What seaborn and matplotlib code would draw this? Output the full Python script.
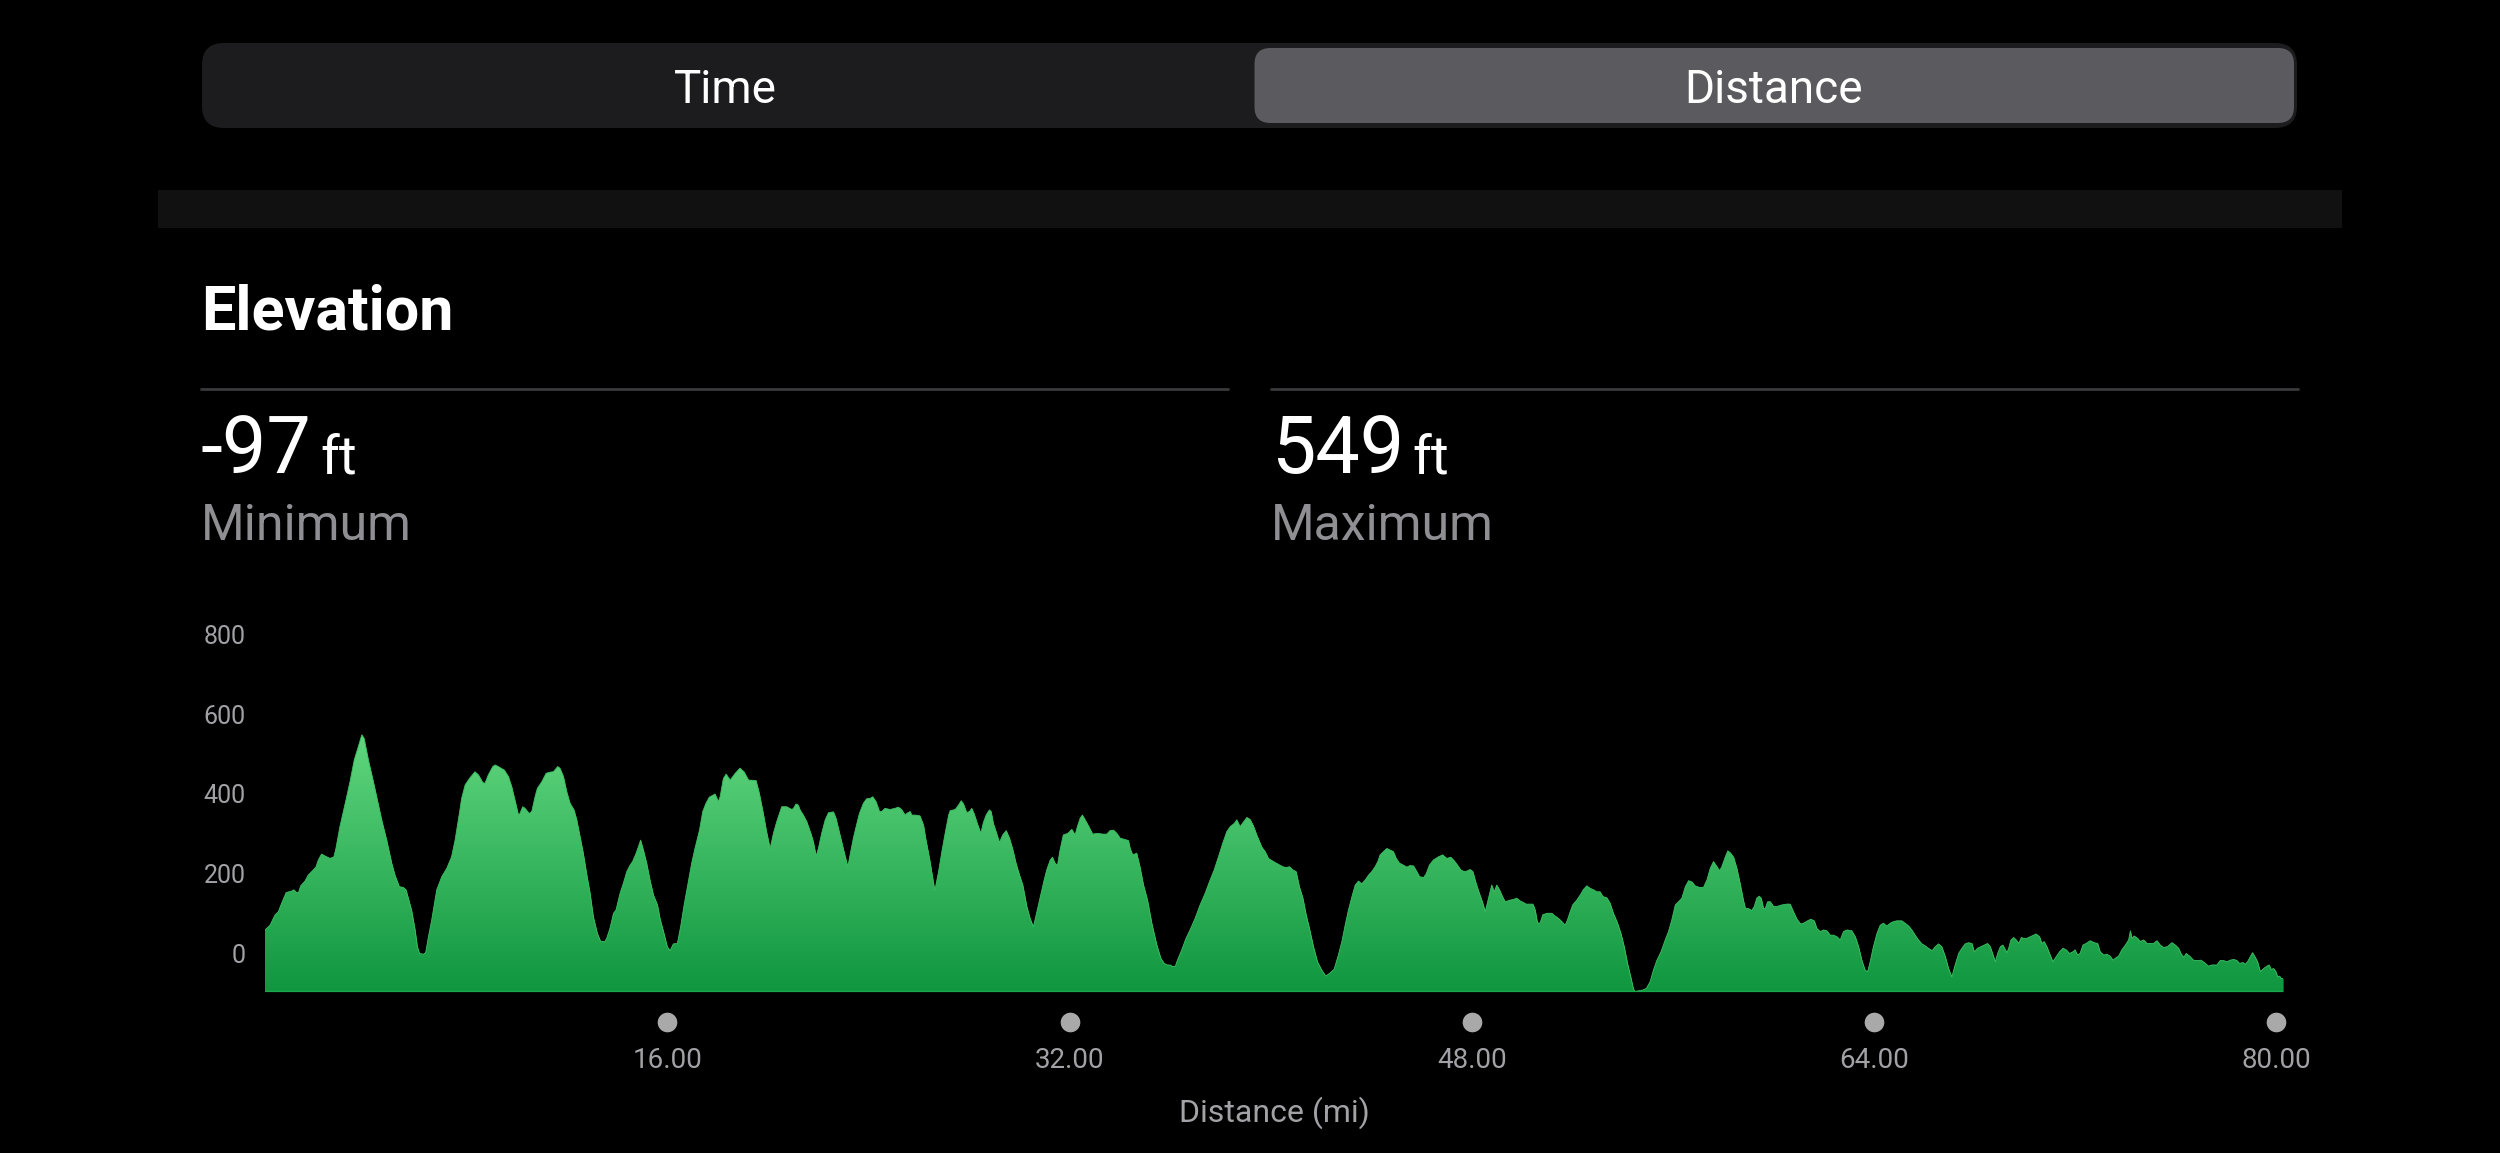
import matplotlib
matplotlib.use("Agg")
import matplotlib.pyplot as plt
from matplotlib.patches import FancyBboxPatch, Rectangle
from matplotlib.colors import LinearSegmentedColormap
import numpy as np
import seaborn as sns

# header texts
segments = ["Time", "Distance"]
selected = "Distance"
title = "Elevation"
min_label = "Minimum"
max_label = "Maximum"
unit = "ft"
x_label = "Distance (mi)"

# elevation profile, in four stretches (miles, feet)
dist_a = [0.00, 0.20, 0.40, 0.53, 0.66, 0.84, 1.06, 1.15, 1.26, 1.33,
          1.42, 1.59, 1.72, 1.92, 2.03, 2.12, 2.25, 2.39, 2.59, 2.74,
          2.82, 2.98, 3.22, 3.38, 3.55, 3.71, 3.85, 3.94, 4.11, 4.31,
          4.47, 4.64, 4.84, 5.04, 5.17, 5.34, 5.50, 5.61, 5.70, 5.83,
          5.97, 6.06, 6.14, 6.30, 6.39, 6.50, 6.63, 6.83, 7.03, 7.23,
          7.42, 7.56, 7.73, 7.82, 7.96, 8.13, 8.35, 8.49, 8.66, 8.75,
          8.88, 9.06, 9.15, 9.28, 9.52, 9.68, 9.81, 9.94, 10.08, 10.14,
          10.25, 10.34, 10.51, 10.61, 10.74, 10.83, 11.01, 11.18, 11.34, 11.47,
          11.64, 11.73, 11.87, 12.00, 12.13, 12.29, 12.40, 12.53, 12.66, 12.79,
          12.93, 13.06, 13.22, 13.35, 13.52, 13.59, 13.72, 13.86, 13.96, 14.12,
          14.25, 14.39, 14.52, 14.62, 14.76, 14.94, 15.05, 15.18, 15.31, 15.45,
          15.61, 15.71, 15.87, 16.00, 16.11, 16.24, 16.40, 16.53, 16.67, 16.80,
          16.97, 17.10, 17.28, 17.41, 17.54, 17.67, 17.90, 18.03, 18.10, 18.23,
          18.34, 18.50, 18.70, 18.89, 19.05, 19.23, 19.53, 19.66, 19.82, 19.95]
elev_a = [58, 70, 96, 104, 125, 152, 156, 159, 152, 152,
          169, 181, 196, 209, 217, 234, 249, 244, 238, 242,
          263, 318, 385, 431, 486, 519, 549, 540, 486, 431,
          385, 335, 284, 226, 196, 167, 165, 159, 138, 108,
          58, 16, -1, -3, 1, 41, 83, 159, 192, 213,
          242, 284, 351, 389, 423, 439, 456, 448, 429, 427,
          448, 469, 473, 469, 460, 444, 419, 385, 347, 351,
          368, 364, 351, 356, 393, 414, 431, 452, 455, 456,
          469, 465, 444, 406, 377, 360, 335, 293, 251, 200,
          150, 91, 49, 29, 29, 37, 62, 100, 108, 150,
          175, 205, 221, 230, 251, 284, 259, 226, 184, 146,
          121, 87, 49, 16, 6, 23, 24, 66, 121, 167,
          226, 263, 309, 356, 377, 392, 400, 381, 393, 439,
          450, 435, 452, 465, 456, 435, 434, 402, 351, 305]

dist_b = [20.09, 20.22, 20.35, 20.55, 20.75, 20.95, 21.02, 21.12, 21.21, 21.28,
          21.41, 21.55, 21.71, 21.81, 21.92, 22.01, 22.14, 22.28, 22.41, 22.61,
          22.71, 22.87, 23.03, 23.18, 23.27, 23.40, 23.51, 23.64, 23.80, 23.93,
          24.07, 24.17, 24.30, 24.44, 24.53, 24.66, 24.86, 25.06, 25.19, 25.32,
          25.46, 25.52, 25.66, 25.72, 25.85, 26.05, 26.19, 26.29, 26.43, 26.56,
          26.64, 26.79, 26.92, 27.05, 27.19, 27.25, 27.45, 27.58, 27.69, 27.78,
          27.91, 28.02, 28.11, 28.20, 28.33, 28.47, 28.57, 28.68, 28.81, 28.88,
          28.97, 29.10, 29.21, 29.34, 29.48, 29.61, 29.74, 29.87, 30.01, 30.14,
          30.30, 30.43, 30.56, 30.70, 30.85, 30.99, 31.09, 31.23, 31.32, 31.42,
          31.52, 31.62, 31.75, 31.93, 32.09, 32.22, 32.31, 32.42, 32.51, 32.62,
          32.75, 32.92, 33.09, 33.35, 33.48, 33.61, 33.75, 33.88, 34.01, 34.17,
          34.34, 34.41, 34.51, 34.67, 34.80, 34.94, 35.10, 35.27, 35.47, 35.63,
          35.76, 35.89, 36.00, 36.10, 36.20, 36.29, 36.46, 36.63, 36.79, 36.99,
          37.19, 37.39, 37.56, 37.75, 37.92, 38.09, 38.25, 38.39, 38.55, 38.65,
          38.78, 38.92, 39.05, 39.18, 39.31, 39.47, 39.65, 39.78, 39.91, 40.11]
elev_b = [263, 301, 330, 368, 368, 361, 364, 375, 372, 360,
          347, 330, 301, 280, 244, 263, 301, 335, 353, 355,
          339, 297, 255, 217, 247, 289, 318, 351, 377, 388,
          389, 393, 381, 356, 356, 364, 361, 364, 367, 361,
          347, 351, 356, 347, 347, 345, 322, 284, 238, 188,
          157, 205, 255, 301, 347, 358, 361, 372, 383, 375,
          353, 356, 364, 351, 326, 301, 328, 347, 360, 356,
          326, 301, 278, 297, 308, 289, 261, 226, 196, 171,
          117, 87, 66, 104, 146, 184, 209, 234, 241, 226,
          221, 259, 297, 301, 311, 297, 318, 339, 347, 335,
          320, 299, 301, 299, 299, 308, 309, 301, 289, 286,
          283, 263, 247, 251, 217, 171, 133, 75, 20, -13,
          -26, -30, -30, -34, -34, -18, 8, 37, 58, 87,
          121, 150, 179, 209, 242, 276, 305, 318, 326, 335,
          318, 330, 341, 336, 320, 293, 266, 255, 238, 230]

dist_c = [40.37, 40.48, 40.61, 40.75, 40.88, 41.01, 41.14, 41.28, 41.41, 41.54,
          41.70, 41.86, 42.03, 42.19, 42.34, 42.52, 42.69, 42.83, 42.96, 43.09,
          43.23, 43.36, 43.49, 43.62, 43.76, 43.89, 44.02, 44.15, 44.26, 44.35,
          44.48, 44.62, 44.75, 44.88, 44.99, 45.12, 45.28, 45.41, 45.54, 45.68,
          45.81, 45.92, 46.08, 46.18, 46.31, 46.47, 46.67, 46.84, 47.00, 47.16,
          47.30, 47.43, 47.56, 47.69, 47.80, 47.93, 48.04, 48.17, 48.30, 48.44,
          48.53, 48.66, 48.79, 48.89, 48.99, 49.10, 49.19, 49.32, 49.52, 49.66,
          49.79, 49.92, 50.05, 50.16, 50.29, 50.43, 50.52, 50.61, 50.71, 50.82,
          50.98, 51.18, 51.31, 51.45, 51.58, 51.71, 51.80, 51.91, 52.01, 52.17,
          52.31, 52.44, 52.57, 52.70, 52.84, 52.97, 53.10, 53.21, 53.37, 53.50,
          53.63, 53.79, 53.93, 54.06, 54.19, 54.32, 54.43, 54.50, 54.63, 54.80,
          54.94, 55.09, 55.22, 55.36, 55.52, 55.69, 55.82, 55.95, 56.09, 56.22,
          56.35, 56.49, 56.62, 56.75, 56.88, 57.06, 57.21, 57.35, 57.48, 57.61,
          57.75, 57.85, 57.94, 58.08, 58.18, 58.28, 58.41, 58.54, 58.67, 58.80,
          58.88, 59.00, 59.13, 59.23, 59.33, 59.43, 59.51, 59.60, 59.67, 59.76,
          59.87, 60.00, 60.13, 60.33, 60.53]
elev_c = [221, 217, 215, 217, 209, 205, 167, 138, 96, 62,
          16, -22, -43, -58, -51, -41, -5, 29, 70, 108,
          142, 171, 181, 174, 184, 196, 205, 217, 230, 247,
          255, 263, 259, 255, 238, 226, 221, 216, 220, 219,
          205, 192, 190, 199, 221, 234, 242, 247, 238, 241,
          232, 221, 209, 205, 206, 210, 205, 175, 150, 125,
          104, 138, 171, 154, 171, 159, 146, 129, 133, 135,
          138, 131, 127, 123, 123, 123, 108, 76, 75, 96,
          100, 100, 93, 87, 79, 70, 83, 104, 121, 133,
          146, 160, 169, 163, 159, 154, 154, 142, 139, 125,
          100, 76, 49, 16, -26, -60, -91, -97, -95, -93,
          -89, -72, -43, -18, 3, 33, 54, 83, 121, 129,
          138, 167, 182, 179, 169, 165, 165, 184, 213, 230,
          217, 207, 217, 242, 257, 252, 241, 213, 175, 133,
          112, 112, 107, 117, 138, 143, 138, 112, 112, 129,
          129, 117, 117, 121, 123]

dist_d = [60.66, 60.79, 60.93, 61.08, 61.22, 61.35, 61.48, 61.62, 61.72, 61.85,
          61.99, 62.12, 62.25, 62.38, 62.52, 62.65, 62.78, 62.91, 63.11, 63.25,
          63.38, 63.51, 63.64, 63.74, 63.84, 63.97, 64.11, 64.24, 64.37, 64.50,
          64.64, 64.77, 64.90, 65.10, 65.23, 65.37, 65.50, 65.63, 65.76, 65.90,
          66.03, 66.16, 66.30, 66.43, 66.56, 66.69, 66.83, 66.96, 67.09, 67.22,
          67.36, 67.49, 67.62, 67.75, 67.89, 67.98, 68.11, 68.24, 68.38, 68.51,
          68.62, 68.71, 68.82, 68.91, 69.02, 69.12, 69.21, 69.28, 69.35, 69.44,
          69.55, 69.65, 69.75, 69.85, 69.94, 70.07, 70.21, 70.34, 70.44, 70.58,
          70.67, 70.76, 70.87, 71.00, 71.11, 71.20, 71.37, 71.51, 71.64, 71.77,
          71.90, 71.99, 72.09, 72.19, 72.30, 72.43, 72.59, 72.75, 72.89, 72.99,
          73.13, 73.26, 73.39, 73.50, 73.59, 73.72, 73.85, 73.99, 74.12, 74.19,
          74.25, 74.34, 74.48, 74.58, 74.72, 74.85, 74.98, 75.11, 75.25, 75.38,
          75.51, 75.67, 75.84, 75.98, 76.11, 76.20, 76.31, 76.41, 76.55, 76.70,
          76.84, 77.00, 77.17, 77.30, 77.43, 77.63, 77.76, 77.90, 78.03, 78.16,
          78.30, 78.43, 78.53, 78.67, 78.76, 78.85, 78.96, 79.05, 79.16, 79.25,
          79.36, 79.49, 79.62, 79.71, 79.79, 79.89, 79.98, 80.05, 80.13, 80.18,
          80.26]
elev_d = [123, 104, 85, 73, 76, 81, 85, 81, 62, 54,
          58, 56, 45, 45, 41, 33, 54, 58, 56, 41,
          16, -18, -43, -47, -22, 16, 49, 70, 75, 68,
          75, 79, 81, 81, 75, 68, 58, 45, 33, 23,
          18, 12, 6, 16, 23, 16, -9, -39, -60, -30,
          -1, 12, 23, 26, 24, 3, 12, 16, 20, 24,
          16, -1, -22, -1, 16, 20, 9, 1, 12, 33,
          39, 33, 24, 39, 37, 37, 41, 45, 48, 41,
          24, 29, 16, -5, -22, -13, 3, 12, 8, -1,
          3, 8, -5, -1, 20, 24, 31, 26, 24, 3,
          -5, -3, -8, -18, -13, -8, 8, 20, 33, 56,
          37, 43, 37, 29, 33, 24, 24, 24, 31, 20,
          14, 16, 26, 20, 12, -1, -11, -1, -8, -18,
          -19, -18, -26, -33, -30, -30, -19, -19, -22, -18,
          -16, -19, -26, -24, -28, -22, -9, 1, -11, -22,
          -47, -39, -33, -30, -41, -39, -47, -60, -58, -64,
          -64]

y_ticks = [0, 200, 400, 600, 800]
x_ticks = [16, 32, 48, 64, 80]

distance_mi = dist_a + dist_b + dist_c + dist_d
elevation_ft = elev_a + elev_b + elev_c + elev_d
elev_min = min(elevation_ft)
elev_max = max(elevation_ft)

sns.set_theme(style="dark", rc={"figure.facecolor": "black",
                                "axes.facecolor": "black",
                                "savefig.facecolor": "black"})
plt.rcParams["font.family"] = ["Roboto", "DejaVu Sans"]

fig = plt.figure(figsize=(25, 11.53), dpi=100)

# pixel-space layer for the header widgets
bg = fig.add_axes([0, 0, 1, 1])
bg.set_xlim(0, 2500)
bg.set_ylim(1153, 0)
bg.axis("off")

# segmented control
bg.add_patch(FancyBboxPatch((202, 43), 2095, 85, boxstyle="round,pad=0,rounding_size=22",
                            fc="#1c1c1e", ec="none"))
seg_w = 2095 / len(segments)
for i, s in enumerate(segments):
    x0 = 202 + i * seg_w
    if s == selected:
        bg.add_patch(FancyBboxPatch((x0 + 5, 48), seg_w - 8, 75,
                                    boxstyle="round,pad=0,rounding_size=16",
                                    fc="#5b5b5f", ec="none"))
    bg.text(x0 + seg_w / 2, 90, s, color="white", fontsize=33,
            ha="center", va="center")

bg.add_patch(Rectangle((158, 190), 2184, 38, fc="#111111", ec="none"))

bg.text(201, 330, title, color="white", fontsize=44, fontweight="bold",
        ha="left", va="baseline")

# min / max blocks
for x0, x1, val, lab in [(201, 1228, elev_min, min_label), (1271, 2298, elev_max, max_label)]:
    bg.plot([x0, x1], [389, 389], color="#3a3a3c", lw=2)
    num = bg.text(x0, 473, f"{val}", color="white", fontsize=57, ha="left", va="baseline")
    bg.annotate(unit, xy=(1, 473), xycoords=(num, "data"), xytext=(6, 0),
                textcoords="offset points", color="white", fontsize=39,
                ha="left", va="baseline")
    bg.text(x0, 540, lab, color="#8e8e93", fontsize=36, ha="left", va="baseline")

# elevation chart
ax = fig.add_axes([265 / 2500, 1 - 991.6 / 1153, 2018 / 2500, 364.6 / 1153])
ax.set_facecolor("none")

poly = ax.fill_between(distance_mi, elevation_ft, elev_min, color="#2fb356", lw=0, zorder=1)
cmap = LinearSegmentedColormap.from_list("elev", ["#0f963f", "#62d880"])
grad = np.linspace(0, 1, 256).reshape(-1, 1)
im = ax.imshow(grad, extent=[0, distance_mi[-1], elev_min, 560], origin="lower",
               aspect="auto", cmap=cmap, zorder=2, interpolation="bilinear")
im.set_clip_path(poly.get_paths()[0], transform=ax.transData)
sns.lineplot(x=distance_mi, y=elevation_ft, ax=ax, color="#3cbf62", lw=0.6,
             estimator=None, sort=False, zorder=3)
ax.axhline(elev_min, color="#1aa84c", lw=2.5, zorder=4)

ax.set_xlim(0, distance_mi[-1])
ax.set_ylim(elev_min, 820)
ax.set_yticks(y_ticks)
ax.set_xticks(x_ticks)
ax.set_xticklabels([f"{t:.2f}" for t in x_ticks])
ax.tick_params(axis="y", length=0, pad=14, labelsize=18, labelcolor="#a1a1a6")
ax.tick_params(axis="x", length=0, pad=40, labelsize=20, labelcolor="#a1a1a6")
ax.set_xlabel(x_label, fontsize=23, color="#a1a1a6", labelpad=16)
ax.set_ylabel("")
ax.grid(False)
sns.despine(ax=ax, left=True, bottom=True)

# round markers under each distance tick
ax.scatter(x_ticks, [-0.084] * len(x_ticks), transform=ax.get_xaxis_transform(),
           s=200, color="#a9a9a9", clip_on=False, zorder=5, linewidths=0)

fig.savefig("out.png", dpi=100, facecolor="black")
